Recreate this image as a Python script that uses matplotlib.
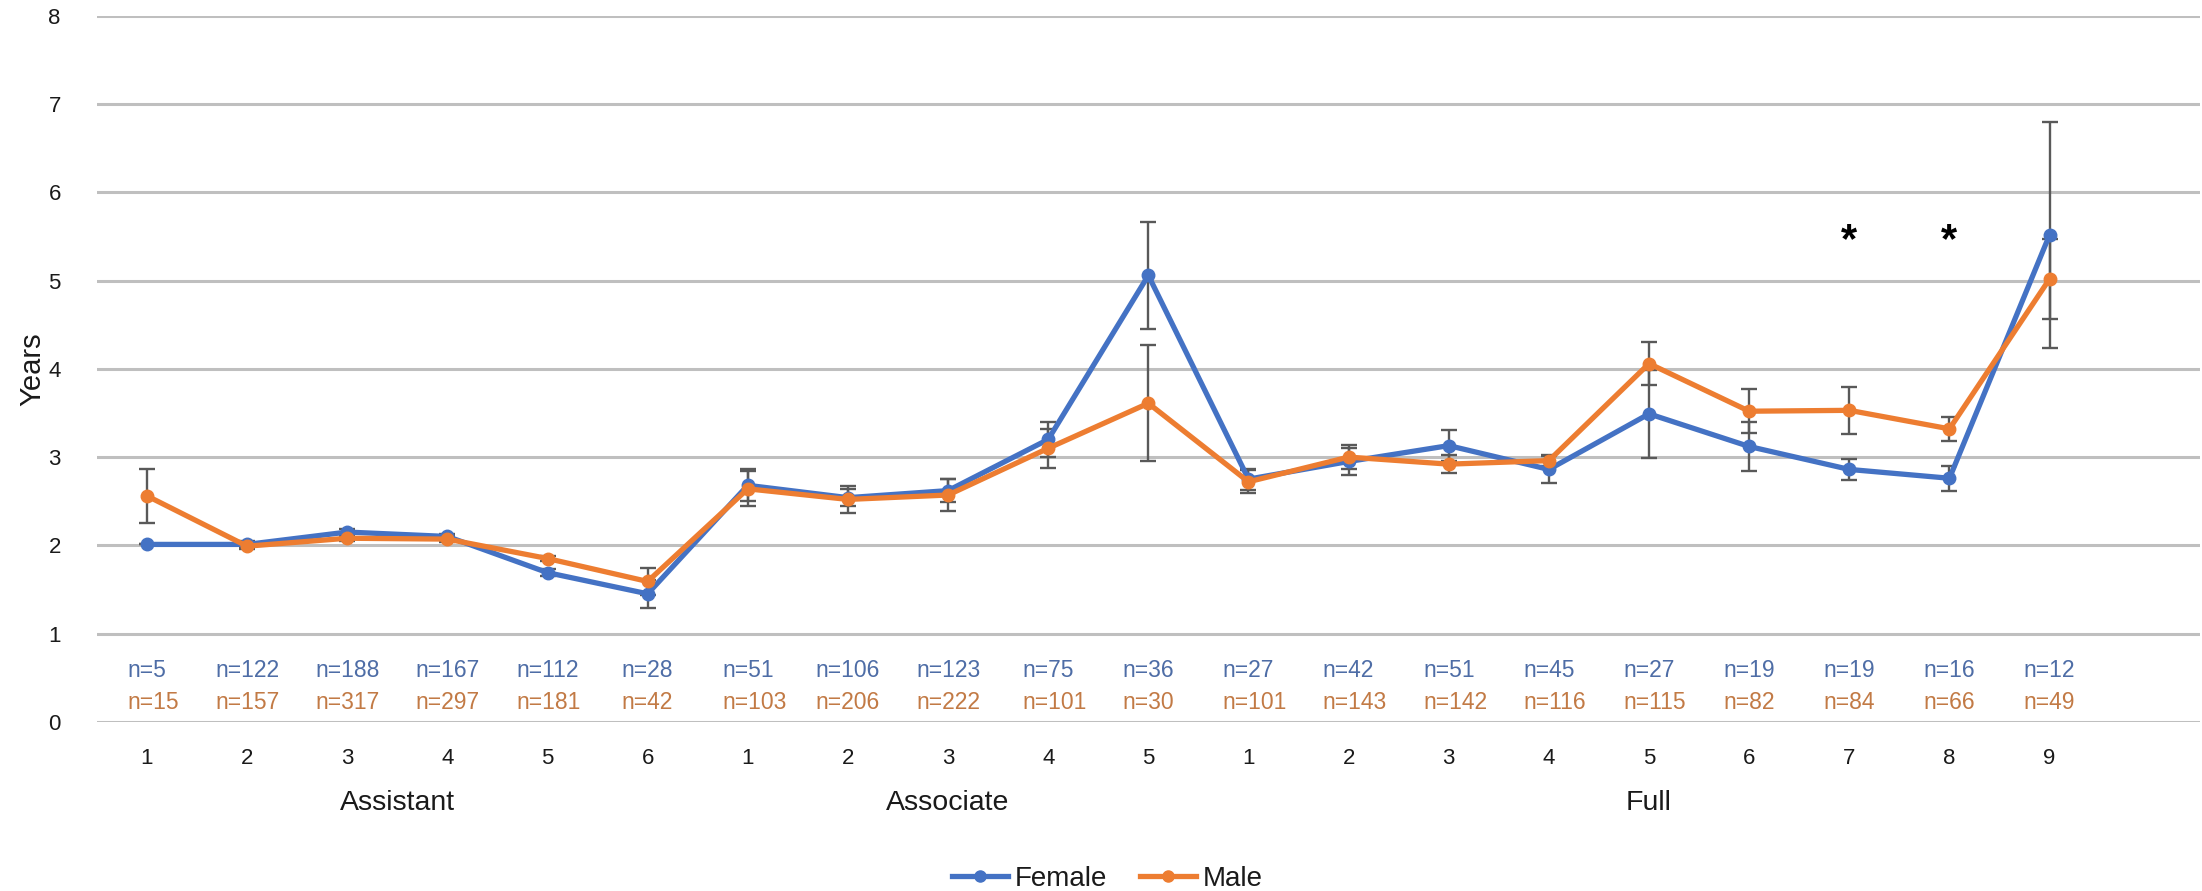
import matplotlib
matplotlib.use("Agg")
import matplotlib.pyplot as plt
from matplotlib.lines import Line2D

plt.rcParams['font.family'] = ['Liberation Sans', 'DejaVu Sans']

# years in rank, by rank and step within the rank
groups = ['Assistant', 'Associate', 'Full']
group_sizes = [6, 5, 9]
steps = ['1', '2', '3', '4', '5', '6',
         '1', '2', '3', '4', '5',
         '1', '2', '3', '4', '5', '6', '7', '8', '9']

female = [2.01, 2.01, 2.15, 2.10, 1.69, 1.45, 2.68, 2.54, 2.62, 3.20,
          5.06, 2.75, 2.95, 3.13, 2.86, 3.49, 3.12, 2.86, 2.76, 5.52]
male = [2.56, 1.99, 2.08, 2.07, 1.85, 1.59, 2.64, 2.52, 2.57, 3.10,
        3.61, 2.72, 3.00, 2.92, 2.96, 4.06, 3.52, 3.53, 3.32, 5.02]
female_err = [0, 0.04, 0.04, 0.03, 0.04, 0.16, 0.18, 0.10, 0.13, 0.20,
              0.61, 0.12, 0.15, 0.18, 0.15, 0.50, 0.28, 0.12, 0.14, 1.28]
male_err = [0.31, 0.03, 0.03, 0.03, 0.03, 0.15, 0.20, 0.15, 0.18, 0.22,
            0.66, 0.13, 0.14, 0.10, 0.06, 0.24, 0.25, 0.27, 0.14, 0.45]

female_n = [5, 122, 188, 167, 112, 28, 51, 106, 123, 75,
            36, 27, 42, 51, 45, 27, 19, 19, 16, 12]
male_n = [15, 157, 317, 297, 181, 42, 103, 206, 222, 101,
          30, 101, 143, 142, 116, 115, 82, 84, 66, 49]

# steps with a significant difference
sig_steps = [17, 18]
sig_y = 5.45

blue = '#4472C4'
orange = '#ED7D31'
blue_txt = '#4E6DA6'
orange_txt = '#C27A45'
err_col = '#595959'
txt_col = '#1a1a1a'

fig = plt.figure(figsize=(22.02, 8.91), dpi=100)
ax = fig.add_axes([0.044, 0.190, 0.955, 0.792])

x = list(range(len(steps)))

ax.errorbar(x, female, yerr=female_err, fmt='none', ecolor=err_col,
            elinewidth=1.7, capsize=6, capthick=1.7, zorder=3)
ax.errorbar(x, male, yerr=male_err, fmt='none', ecolor=err_col,
            elinewidth=1.7, capsize=6, capthick=1.7, zorder=3)
ax.plot(x, female, color=blue, lw=3.8, marker='o', markersize=9,
        zorder=4, label='Female')
ax.plot(x, male, color=orange, lw=3.8, marker='o', markersize=9,
        zorder=5, label='Male')

ax.set_xlim(-0.5, len(steps) + 0.5)
ax.set_ylim(0, 8)
ax.set_yticks(range(0, 9))
ax.grid(axis='y', color='#BFBFBF', lw=2.2)
ax.set_axisbelow(True)
for s in ax.spines.values():
    s.set_visible(False)

ax.set_xticks(x)
ax.set_xticklabels(steps)
ax.tick_params(axis='x', length=0, pad=19, labelsize=16, labelcolor=txt_col)
ax.tick_params(axis='y', length=0, pad=26, labelsize=16, labelcolor=txt_col)
ax.set_ylabel('Years', fontsize=21, color=txt_col)
ax.yaxis.set_label_coords(-0.024, 0.5)

# rank names under the step numbers
xform = ax.get_xaxis_transform()
start = 0
for name, size in zip(groups, group_sizes):
    mid = start + (size - 1) / 2
    ax.text(mid, -0.115, name, transform=xform, ha='center', va='center',
            fontsize=20.5, color=txt_col)
    start += size

# sample sizes: female on top, male below, left edges aligned
fig.canvas.draw()
renderer = fig.canvas.get_renderer()
inv = ax.transData.inverted()
for i, (nf, nm) in enumerate(zip(female_n, male_n)):
    t = ax.text(i, 0.575, f'n={nf}', ha='center', va='center',
                fontsize=16.5, color=blue_txt)
    left_px = t.get_window_extent(renderer).x0
    left = inv.transform((left_px, 0))[0]
    ax.text(left, 0.22, f'n={nm}', ha='left', va='center',
            fontsize=16.5, color=orange_txt)

for i in sig_steps:
    ax.text(i, sig_y, '*', ha='center', va='center', fontsize=30,
            fontweight='bold', color='black')

handles = [Line2D([], [], color=blue, lw=3.8, marker='o', markersize=8),
           Line2D([], [], color=orange, lw=3.8, marker='o', markersize=8)]
fig.legend(handles, ['Female', 'Male'], loc='center',
           bbox_to_anchor=(0.503, 0.0135), ncol=2, frameon=False,
           fontsize=20, handlelength=2.0, handletextpad=0.25,
           columnspacing=1.2, labelcolor=txt_col)

fig.savefig('out.png', dpi=100)
